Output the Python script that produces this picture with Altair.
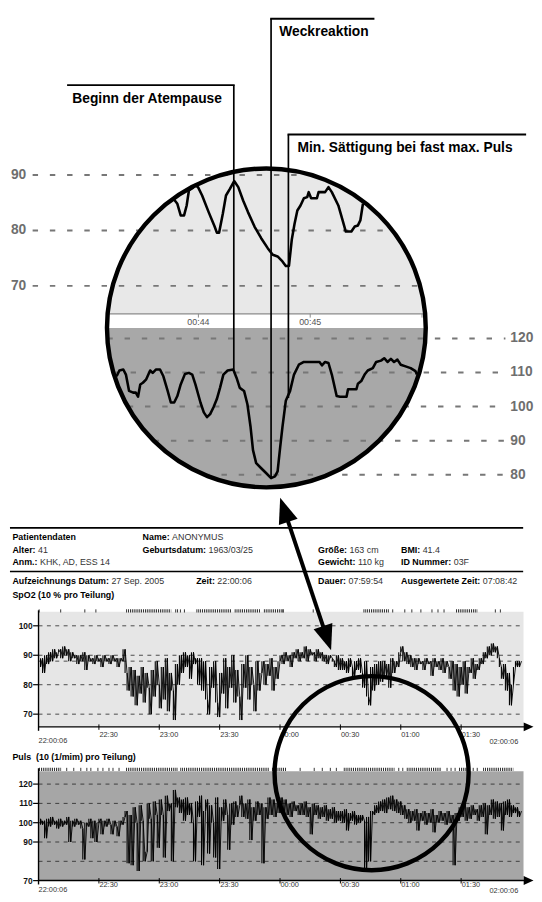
import math
import altair as alt
import pandas as pd

# ---------------------------------------------------------------- data
# zoom window: seconds after 00:43:00
zoom_spo2_sec = [46.6, 48.7, 50.5, 52.3, 53.7, 54.9, 56.7, 58.4, 59.8, 62.0,
                 65.5, 68.7, 69.9, 71.1, 73.1, 74.8, 76.9, 79.2, 81.4, 84.0,
                 86.6, 90.1, 93.7, 97.2, 99.9, 102.5, 105.1, 106.9, 108.6, 110.1,
                 111.6, 113.1, 114.8, 116.6, 118.4, 119.2, 120.5, 123.6, 124.5, 128.0,
                 129.8, 131.6, 135.1, 137.4, 139.1, 142.1, 143.9, 145.6, 146.9, 148.3]
zoom_spo2_val = [85.7, 84.8, 82.7, 82.7, 84.5, 87.2, 87.6, 88.2, 87.8, 86.3,
                 83.3, 80.7, 79.6, 79.6, 83.0, 86.3, 87.5, 88.9, 87.8, 85.4,
                 83.3, 80.7, 78.6, 76.8, 75.6, 75.3, 74.4, 73.6, 73.6, 78.3,
                 81.2, 83.6, 84.5, 85.8, 86.0, 86.9, 85.8, 85.8, 86.9, 86.9,
                 87.8, 86.9, 84.5, 81.8, 79.8, 79.8, 80.7, 80.9, 81.8, 84.8]
zoom_puls_sec = [16.1, 17.6, 19.7, 21.1, 22.8, 25.0, 26.4, 27.6, 28.8, 30.2,
                 32.0, 34.1, 35.5, 37.3, 39.4, 41.2, 43.5, 45.2, 47.0, 48.7,
                 50.5, 52.8, 54.9, 56.7, 58.4, 61.1, 62.9, 64.6, 66.3, 68.1,
                 69.9, 71.6, 73.4, 75.7, 78.7, 80.5, 82.2, 84.5, 86.3, 88.0,
                 89.3, 91.0, 93.7, 96.3, 99.0, 101.1, 102.5, 103.9, 105.1, 106.9,
                 109.2, 111.3, 113.9, 116.6, 125.0, 126.3, 128.0, 129.8, 131.6, 134.2,
                 136.0, 139.5, 140.3, 144.8, 145.6, 147.4, 149.2, 150.9, 153.6, 155.4,
                 158.0, 159.7, 161.5, 163.3, 165.0, 166.8, 168.6, 171.2, 173.9, 176.5,
                 177.3]
zoom_puls_val = [108.9, 110.6, 110.9, 109.4, 104.6, 104.1, 104.1, 102.9, 106.5, 107.0,
                 108.0, 110.6, 109.9, 110.9, 110.9, 108.9, 104.6, 101.2, 101.2, 103.1,
                 106.5, 109.6, 109.9, 109.4, 106.5, 101.2, 98.3, 96.9, 97.8, 99.8,
                 102.2, 105.5, 109.4, 110.6, 110.9, 108.4, 105.5, 104.6, 100.7, 94.0,
                 87.2, 83.4, 81.9, 80.5, 79.0, 79.5, 81.0, 88.2, 94.0, 101.7,
                 104.6, 109.4, 112.3, 113.1, 113.1, 112.1, 113.1, 112.8, 109.4, 103.1,
                 102.9, 102.9, 105.1, 105.1, 106.7, 107.5, 109.4, 110.6, 111.3, 113.1,
                 113.5, 114.2, 113.1, 114.0, 113.1, 113.8, 112.3, 111.8, 111.3, 110.4,
                 109.4]
zoom_tick_sec = [60, 120, 180]
zoom_tick_labels = ["00:44", "00:45", ""]
zoom_spo2_grid = [90, 80, 70]
zoom_puls_grid = [120, 110, 100, 90, 80]

callout_sec = [79.0, 99.0, 108.3]
callout_puls = [110.9, 79.0, 102.5]
callout_text = ["Beginn der Atempause", "Weckreaktion", "Min. Sättigung bei fast max. Puls"]

# overview: one value per minute after 22:00
spo2_trace = [
    86, 89, 84, 90, 87, 91, 88, 92, 89, 91,
    92, 89, 93, 90, 92, 88, 91, 89, 90, 87,
    90, 88, 91, 85, 90, 88, 89, 87, 90, 88,
    89, 86, 90, 88, 89, 87, 90, 88, 89, 86,
    89, 88, 92, 84, 78, 86, 76, 85, 73, 83,
    77, 86, 74, 84, 79, 70, 85, 76, 88, 80,
    72, 86, 75, 89, 71, 84, 78, 68, 87, 80,
    90, 84, 91, 86, 90, 82, 91, 87, 89, 80,
    89, 78, 88, 75, 70, 86, 79, 88, 74, 69,
    84, 77, 89, 72, 86, 79, 90, 74, 85, 76,
    68, 87, 79, 90, 75, 86, 80, 71, 88, 78,
    84, 88, 80, 87, 83, 89, 78, 86, 82, 88,
    90, 87, 91, 88, 90, 86, 91, 89, 92, 88,
    91, 89, 93, 88, 92, 90, 91, 88, 92, 89,
    91, 88, 90, 87, 90, 89, 88, 86, 90, 85,
    89, 85, 88, 84, 89, 86, 82, 88, 85, 89,
    84, 79, 88, 76, 73, 86, 78, 87, 80, 88,
    81, 88, 83, 87, 79, 89, 84, 88, 86, 91,
    93, 88, 91, 87, 90, 86, 89, 85, 89, 87,
    88, 85, 89, 87, 88, 83, 89, 86, 88, 85,
    89, 84, 88, 86, 82, 88, 78, 87, 76, 86,
    80, 88, 77, 86, 84, 89, 82, 87, 85, 89,
    87, 91, 89, 93, 90, 94, 91, 93, 89, 86,
    82, 87, 78, 84, 73, 80, 86, 88, 86, 88,
]
puls_trace = [
    102, 99, 101, 92, 102, 98, 103, 99, 101, 97,
    102, 98, 101, 99, 103, 90, 101, 98, 102, 99,
    101, 97, 81, 100, 98, 102, 92, 101, 90, 100,
    102, 94, 101, 98, 102, 99, 94, 101, 98, 93,
    101, 99, 103, 106, 79, 104, 78, 108, 100, 75,
    109, 101, 80, 85, 110, 102, 80, 111, 104, 87,
    112, 104, 82, 114, 106, 110, 80, 117, 108, 113,
    105, 112, 101, 113, 104, 110, 100, 80, 111, 103,
    114, 78, 106, 112, 84, 109, 100, 82, 113, 76,
    108, 101, 112, 104, 86, 110, 99, 111, 103, 109,
    114, 103, 110, 102, 112, 91, 108, 101, 111, 104,
    110, 79, 108, 102, 113, 104, 112, 103, 110, 105,
    113, 105, 112, 104, 110, 103, 111, 106, 109, 104,
    110, 104, 111, 103, 108, 94, 110, 104, 109, 102,
    108, 103, 109, 101, 107, 102, 108, 100, 106, 101,
    106, 100, 107, 96, 105, 101, 106, 99, 104, 100,
    104, 101, 75, 103, 80, 106, 104, 109, 105, 111,
    106, 112, 105, 113, 107, 114, 106, 112, 105, 111,
    104, 109, 102, 107, 100, 106, 101, 107, 96, 105,
    101, 106, 99, 105, 100, 107, 95, 104, 100, 106,
    101, 105, 99, 106, 100, 104, 78, 105, 101, 108,
    103, 110, 101, 108, 102, 109, 104, 107, 101, 109,
    103, 110, 94, 109, 104, 112, 102, 111, 103, 110,
    96, 111, 104, 112, 103, 109, 105, 108, 103, 106,
]
time_tick_min = [30, 60, 90, 120, 150, 180, 210]
time_tick_labels = ["22:30", "23:00", "23:30", "00:00", "00:30", "01:00", "01:30"]
spo2_grid = [100, 90, 88, 80, 70]
spo2_ticks = [100, 90, 80, 70]
puls_grid = [120, 110, 100, 90, 80]
puls_ticks = [120, 110, 100, 90, 70]

spo2_event_single = [0.3, 11, 23, 28.5, 70.5, 72.5, 121.5, 136.5, 176, 182, 185.5, 190,
                     195.5, 198.5, 201.5, 227, 229.5]
spo2_event_start = [43.6, 68.0, 78.5, 97.5, 112.0, 161.5, 207.5]
spo2_event_end = [66.0, 69.5, 96.0, 110.0, 122.0, 174.0, 218.0]
puls_event_single = [14, 17.5, 21, 24, 26, 29.5, 32, 35, 37, 40, 130, 137, 141, 145, 148,
                     179, 181, 203, 205, 207, 216, 218]
puls_event_start = [0.3, 43.5, 70.5, 116, 151.7, 183, 209, 221]
puls_event_end = [11.5, 69, 114.5, 123, 177, 200, 214, 236]

info_rows = [
    [("Patientendaten", ""), ("Name:", "ANONYMUS")],
    [("Alter:", "41"), ("Geburtsdatum:", "1963/03/25"), ("Größe:", "163 cm"), ("BMI:", "41.4")],
    [("Anm.:", "KHK, AD, ESS 14"), ("Gewicht:", "110 kg"), ("ID Nummer:", "03F")],
    [("Aufzeichnungs Datum:", "27 Sep. 2005"), ("Zeit:", "22:00:06"), ("Dauer:", "07:59:54"),
     ("Ausgewertete Zeit:", "07:08:42")],
]
spo2_title = "SpO2 (10 % pro Teilung)"
puls_title = "Puls\u00a0 (10 (1/mim) pro Teilung)"
start_label = "22:00:06"
end_label = "02:00:06"

# ---------------------------------------------------------------- layout helpers
OFF = 8
W, H = 534, 894
FONT = "Liberation Sans"
LIGHT = "#e8e8e8"
DARK = "#a8a8a8"
DASH = "#777777"
GRAYTXT = "#6e6e6e"
ONE = pd.DataFrame({"k": [0]})


def V(p):
    return alt.value(p - OFF)


def S(domain, rng):
    return alt.Scale(domain=domain, range=[r - OFF for r in rng], nice=False, zero=False)


def X(f, sc):
    return alt.X(f, type="quantitative", scale=sc, axis=None)


def Y(f, sc):
    return alt.Y(f, type="quantitative", scale=sc, axis=None)


def seg(x1, y1, x2, y2, **kw):
    kw.setdefault("color", "black")
    return alt.Chart(ONE).mark_rule(**kw).encode(x=V(x1), y=V(y1), x2=V(x2), y2=V(y2))


def txt(x, y, s, **kw):
    base = dict(font=FONT, baseline="middle", align="left", color="black")
    base.update(kw)
    return alt.Chart(ONE).mark_text(text=s, **base).encode(x=V(x), y=V(y))


BOLD_W = {" ": 278, ":": 333, ".": 278, ",": 278, "A": 722, "B": 722, "D": 722, "G": 778,
          "I": 278, "M": 833, "N": 722, "P": 667, "Z": 611,
          "a": 556, "b": 611, "c": 556, "d": 611, "e": 556, "f": 333, "g": 611, "h": 611,
          "i": 278, "k": 556, "l": 278, "m": 889, "n": 611, "o": 611, "r": 389, "s": 556,
          "t": 333, "u": 611, "w": 778, "z": 500, "ö": 611, "ß": 611}


def bold_width(s, fs):
    return sum(BOLD_W.get(c, 556) for c in s) / 1000.0 * fs


# scales
ZX = S([0, 180], [87.8, 428.3])
ZY_S = S([70, 90], [283.3, 170.7])
ZY_P = S([80, 120], [475.0, 336.7])
OX = S([0, 240], [39.0, 39.0 + 240 * 2.043])
OY_S = S([70, 100], [718.1, 628.4])
OY_P = S([70, 120], [887.1, 789.1])


def zsec(px):
    return (px - 87.8) / (340.5 / 180.0)


def zs_py(v):
    return 170.7 + (90 - v) * 5.63


def zp_py(v):
    return 336.7 + (120 - v) * 3.4575


CX, CY, R = 270.3, 326.0, 161.8

L = []
# ---------------------------------------------------------------- zoom circle
L.append(alt.Chart(ONE).mark_point(shape="circle", filled=True, size=(2 * R) ** 2, color=LIGHT,
                                   opacity=1, strokeWidth=0).encode(x=V(CX), y=V(CY)))
L.append(alt.Chart(ONE).mark_arc(radius=R, theta=math.pi / 2, theta2=3 * math.pi / 2,
                                 color=DARK).encode(x=V(CX), y=V(CY)))
L.append(alt.Chart(ONE).mark_rect(color="white").encode(x=V(108), x2=V(432.5), y=V(311.7), y2=V(CY)))
L.append(seg(108, 311.7, 432.5, 311.7, color="#8a8a8a", strokeWidth=1.3))
L.append(alt.Chart(pd.DataFrame({"s": zoom_tick_sec})).mark_rule(color="#8a8a8a", strokeWidth=1).encode(
    x=X("s", ZX), y=V(311.7), y2=V(315.5)))
L.append(alt.Chart(pd.DataFrame({"s": zoom_tick_sec, "lab": zoom_tick_labels})).mark_text(
    font=FONT, fontSize=9, color="#555555", baseline="middle").encode(
    x=X("s", ZX), y=V(320.5), text="lab:N"))

rows = []
for v in zoom_spo2_grid:
    dy = CY - zs_py(v)
    hw = math.sqrt(max(R * R - dy * dy, 0.0))
    rows.append({"v": v, "s0": zsec(33), "s1": zsec(CX + hw)})
L.append(alt.Chart(pd.DataFrame(rows)).mark_rule(color=DASH, strokeWidth=2, strokeDash=[5.5, 12]).encode(
    x=X("s0", ZX), x2="s1", y=Y("v", ZY_S)))
rows = []
for v in zoom_puls_grid:
    dy = zp_py(v) - CY
    hw = math.sqrt(max(R * R - dy * dy, 0.0))
    rows.append({"v": v, "s0": zsec(CX - hw), "s1": zsec(513)})
L.append(alt.Chart(pd.DataFrame(rows)).mark_rule(color=DASH, strokeWidth=2, strokeDash=[5.5, 12]).encode(
    x=X("s0", ZX), x2="s1", y=Y("v", ZY_P)))

L.append(alt.Chart(pd.DataFrame({"v": zoom_spo2_grid, "lab": [str(v) for v in zoom_spo2_grid]})).mark_text(
    font=FONT, fontSize=14, fontWeight="bold", color=GRAYTXT, align="right", baseline="middle").encode(
    x=V(26.5), y=Y("v", ZY_S), text="lab:N"))
L.append(alt.Chart(pd.DataFrame({"v": zoom_puls_grid, "lab": [str(v) for v in zoom_puls_grid]})).mark_text(
    font=FONT, fontSize=14, fontWeight="bold", color=GRAYTXT, align="left", baseline="middle").encode(
    x=V(518), y=Y("v", ZY_P), text="lab:N"))

L.append(alt.Chart(pd.DataFrame({"s": zoom_spo2_sec, "v": zoom_spo2_val})).mark_line(
    color="black", strokeWidth=2.6, strokeJoin="round").encode(x=X("s", ZX), y=Y("v", ZY_S)))
L.append(alt.Chart(pd.DataFrame({"s": zoom_puls_sec, "v": zoom_puls_val})).mark_line(
    color="black", strokeWidth=2.6, strokeJoin="round").encode(x=X("s", ZX), y=Y("v", ZY_P)))

# callouts
tops = [79.5, 12.1, 129.6]
hlines = [(68.0, None), (None, 380.0), (None, 534.0)]
text_pos = [(73.3, 93.3), (283.4, 26.0), (301.8, 143.4)]
for i in range(3):
    d = pd.DataFrame({"s": [callout_sec[i]], "v": [callout_puls[i]]})
    L.append(alt.Chart(d).mark_rule(color="black", strokeWidth=1.7).encode(
        x=X("s", ZX), y=Y("v", ZY_P), y2=V(tops[i])))
    xv = 87.8 + callout_sec[i] * 340.5 / 180.0
    a, b = hlines[i]
    x1 = a if a is not None else xv - 0.9
    x2 = b if b is not None else xv + 0.9
    L.append(seg(x1, tops[i], x2, tops[i], strokeWidth=2))
    L.append(txt(text_pos[i][0], text_pos[i][1], callout_text[i], fontSize=14, fontWeight="bold"))

L.append(alt.Chart(ONE).mark_point(shape="circle", filled=False, size=(2 * R) ** 2, color="black",
                                   strokeWidth=4.5, opacity=1).encode(x=V(CX), y=V(CY)))

# ---------------------------------------------------------------- info block
L.append(seg(10, 529, 531, 529, strokeWidth=1.8))
L.append(seg(10, 573.3, 531, 573.3, strokeWidth=1.5))
row_y = [538.7, 551.0, 563.3, 583.3]
col_x = [
    [12.5, 144.6],
    [12.5, 144.6, 322.7, 407.0],
    [12.5, 322.7, 407.0],
    [12.5, 199.0, 322.7, 407.0],
]
FS = 9
for r, items in enumerate(info_rows):
    for c, (lab, val) in enumerate(items):
        x0 = col_x[r][c]
        L.append(txt(x0, row_y[r], lab, fontSize=FS, fontWeight="bold"))
        if val:
            L.append(txt(x0 + bold_width(lab, FS) + 0.278 * FS, row_y[r], val, fontSize=FS, color="#333333"))
L.append(txt(12.5, 597.5, spo2_title, fontSize=FS, fontWeight="bold"))
L.append(txt(12.5, 761.7, puls_title, fontSize=FS, fontWeight="bold"))

# ---------------------------------------------------------------- overview panels
HEAD_R = "M0,0 L-2,-0.9 L-2,0.9 Z"
minutes = [i + 1 for i in range(len(spo2_trace))]


def panel(trace, ysc, vlo, vhi, grid, ticks, singles, s0, s1, bg, ev_y, ytop, axis_y, lab_y, edge_y):
    out = []
    out.append(alt.Chart(pd.DataFrame({"t0": [0], "t1": [241], "v0": [vlo], "v1": [vhi]})).mark_rect(
        color=bg).encode(x=X("t0", OX), x2="t1", y=Y("v0", ysc), y2="v1"))
    out.append(alt.Chart(pd.DataFrame({"v": grid, "t0": [0] * len(grid), "t1": [241] * len(grid)})).mark_rule(
        color="#222222", strokeWidth=0.8, strokeDash=[4, 4.5]).encode(x=X("t0", OX), x2="t1", y=Y("v", ysc)))
    out.append(alt.Chart(pd.DataFrame({"t": singles})).mark_rule(color="black", strokeWidth=0.8).encode(
        x=X("t", OX), y=V(ev_y - 1.6), y2=V(ev_y + 1.6)))
    out.append(alt.Chart(pd.DataFrame({"t0": s0, "t1": s1})).mark_rule(
        color="black", strokeWidth=3.2, strokeDash=[0.8, 1.1]).encode(x=X("t0", OX), x2="t1", y=V(ev_y)))
    # dense trace: each sample joined to the next one by a vertical stroke, plus the trace itself
    pairs = pd.DataFrame({"t": minutes[:-1], "v": trace[:-1], "v2": trace[1:]})
    out.append(alt.Chart(pairs).mark_rule(color="black", strokeWidth=1.1).encode(
        x=X("t", OX), y=Y("v", ysc), y2="v2"))
    out.append(alt.Chart(pd.DataFrame({"t": minutes, "v": trace})).mark_line(
        color="black", strokeWidth=0.9).encode(x=X("t", OX), y=Y("v", ysc)))
    # axes
    out.append(seg(39, ytop, 39, axis_y + 4, strokeWidth=1.4))
    out.append(seg(39, axis_y, 534, axis_y, strokeWidth=1.4))
    out.append(alt.Chart(ONE).mark_point(shape=HEAD_R, filled=True, size=100, color="black", opacity=1,
                                         strokeWidth=0).encode(x=V(541.5), y=V(axis_y)))
    out.append(alt.Chart(pd.DataFrame({"v": ticks})).mark_rule(color="black", strokeWidth=1.2).encode(
        x=V(33.5), x2=V(39), y=Y("v", ysc)))
    out.append(alt.Chart(pd.DataFrame({"v": ticks, "lab": [str(v) for v in ticks]})).mark_text(
        font=FONT, fontSize=8.5, fontWeight="bold", align="right", baseline="middle", color="#111111").encode(
        x=V(33), y=Y("v", ysc), text="lab:N"))
    out.append(alt.Chart(pd.DataFrame({"t": time_tick_min})).mark_rule(color="black", strokeWidth=1).encode(
        x=X("t", OX), y=V(axis_y - 2.5), y2=V(axis_y + 3)))
    out.append(alt.Chart(pd.DataFrame({"t": time_tick_min, "lab": time_tick_labels})).mark_text(
        font=FONT, fontSize=7.5, align="left", baseline="middle", color="#333333", dx=0.5).encode(
        x=X("t", OX), y=V(lab_y), text="lab:N"))
    out.append(txt(39, edge_y, start_label, fontSize=7.5, color="#333333"))
    out.append(txt(526, edge_y + 0.8, end_label, fontSize=7.5, color="#333333", align="right"))
    return out


L += panel(spo2_trace, OY_S, 65.7, 104.8, spo2_grid, spo2_ticks, spo2_event_single,
           spo2_event_start, spo2_event_end, "#e6e6e6", 613.3, 612.7, 731.0, 739.5, 745.7)
L += panel(puls_trace, OY_P, 70.0, 126.7, puls_grid, puls_ticks, puls_event_single,
           puls_event_start, puls_event_end, "#a6a6a6", 774.2, 773.0, 887.0, 891.7, 897.0)

# circle on overview + arrow linking to the zoom
R2 = 98.5
L.append(alt.Chart(pd.DataFrame({"t": [165.5]})).mark_point(
    shape="circle", filled=False, size=(2 * R2) ** 2, color="black", strokeWidth=4.5, opacity=1).encode(
    x=X("t", OX), y=V(778)))
L.append(seg(290.6, 517.3, 329.7, 634.3, strokeWidth=4))
L.append(alt.Chart(ONE).mark_point(shape="M0,0 L-0.77,2 L0.77,2 Z", filled=True, size=676, angle=341.6,
                                   color="black", opacity=1, strokeWidth=0).encode(x=V(284.3), y=V(498.3)))
L.append(alt.Chart(ONE).mark_point(shape="M0,0 L-0.77,-2 L0.77,-2 Z", filled=True, size=676, angle=341.6,
                                   color="black", opacity=1, strokeWidth=0).encode(x=V(336.0), y=V(653.3)))

chart = alt.layer(*L).resolve_scale(x="independent", y="independent").properties(
    width=W, height=H, padding=0, autosize=alt.AutoSizeParams(type="none")
).configure_view(stroke=None).configure_text(font=FONT)

chart.save("out.html", embed_options={"renderer": "svg", "actions": False})
